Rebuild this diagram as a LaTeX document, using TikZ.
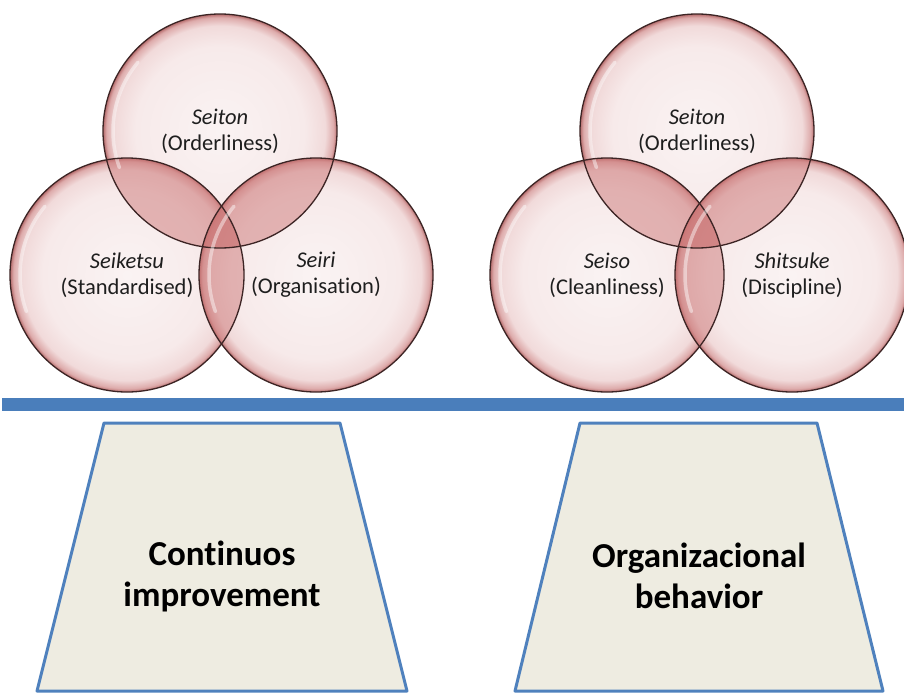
\documentclass[tikz,border=0pt]{standalone}
\usepackage{fontspec}
\setmainfont{Carlito}[Ligatures=NoCommon]

\definecolor{bubin}{HTML}{FAF3F3}
\definecolor{bubsoft}{HTML}{F7EAEA}
\definecolor{bubmid}{HTML}{F1DADA}
\definecolor{bubrim}{HTML}{DDAAAA}
\definecolor{bubedge}{HTML}{B46A6A}
\definecolor{lenscol}{HTML}{CD7878}
\definecolor{rimline}{HTML}{3C2424}
\definecolor{tagtext}{HTML}{1E1E1E}
\definecolor{barblue}{HTML}{4A7EBB}
\definecolor{pillarfill}{HTML}{EEECE1}
\definecolor{pillarline}{HTML}{4F81BD}

\pgfdeclareradialshading{bubble}{\pgfpoint{0bp}{0bp}}{color(0bp)=(bubin); color(18bp)=(bubsoft); color(22.5bp)=(bubmid); color(24.3bp)=(bubrim); color(25bp)=(bubedge); color(50bp)=(bubedge)}

\begin{document}
\begin{tikzpicture}[x=1pt, y=-1pt,
    bubble/.style = {circle, minimum size=234pt, inner sep=0pt, shade, shading=bubble},
    lens/.style = {fill=lenscol, fill opacity=0.5},
    gloss/.style = {draw=white, line width=3.5pt, line cap=round, draw opacity=0.45},
    rim/.style = {draw=rimline, line width=1.3pt},
    tag/.style = {align=center, text=tagtext, font=\fontsize{22.5}{26}\selectfont},
    pillar/.style = {draw=pillarline, line width=3pt, fill=pillarfill, line join=round},
    pillartext/.style = {align=center, font=\bfseries\fontsize{35}{41}\selectfont}]
    \useasboundingbox (0,0) rectangle (904,693);

    \node[bubble] (Lt) at (220,131) {};
    \node[bubble] (Ll) at (127,275) {};
    \node[bubble] (Lr) at (316,275) {};
    \node[bubble] (Rt) at (697,131) {};
    \node[bubble] (Rl) at (607,275) {};
    \node[bubble] (Rr) at (792,275) {};

    \foreach \a/\b in {Lt/Ll, Lt/Lr, Ll/Lr, Rt/Rl, Rt/Rr, Rl/Rr} {
        \begin{scope}
            \clip (\a.center) circle[radius=117pt];
            \fill[lens] (\b.center) circle[radius=117pt];
        \end{scope}
    }

    \foreach \c in {Lt, Ll, Lr, Rt, Rl, Rr} {
        \draw[gloss] ([shift={(140:107pt)}]\c.center) arc[start angle=140, end angle=200, radius=107pt];
        \draw[rim] (\c.center) circle[radius=117pt];
    }

    \node[tag] (Lt-tag) at (Lt) {\textit{Seiton}\\(Orderliness)};
    \node[tag] (Ll-tag) at (Ll) {\textit{Seiketsu}\\(Standardised)};
    \node[tag] (Lr-tag) at (Lr) {\textit{Seiri}\\(Organisation)};
    \node[tag] (Rt-tag) at (Rt) {\textit{Seiton}\\(Orderliness)};
    \node[tag] (Rl-tag) at (Rl) {\textit{Seiso}\\(Cleanliness)};
    \node[tag] (Rr-tag) at (Rr) {\textit{Shitsuke}\\(Discipline)};

    \fill[barblue] (2,398) rectangle (904,411);

    \draw[pillar] (37,691) -- (104,423) -- (340,423) -- (407,691) -- cycle;
    \draw[pillar] (515,691) -- (580,423) -- (817,423) -- (883,691) -- cycle;
    \node[pillartext] (ci-text) at (222,576) {Continuos\\improvement};
    \node[pillartext] (ob-text) at (699,576) {Organizacional\\behavior};
\end{tikzpicture}
\end{document}
